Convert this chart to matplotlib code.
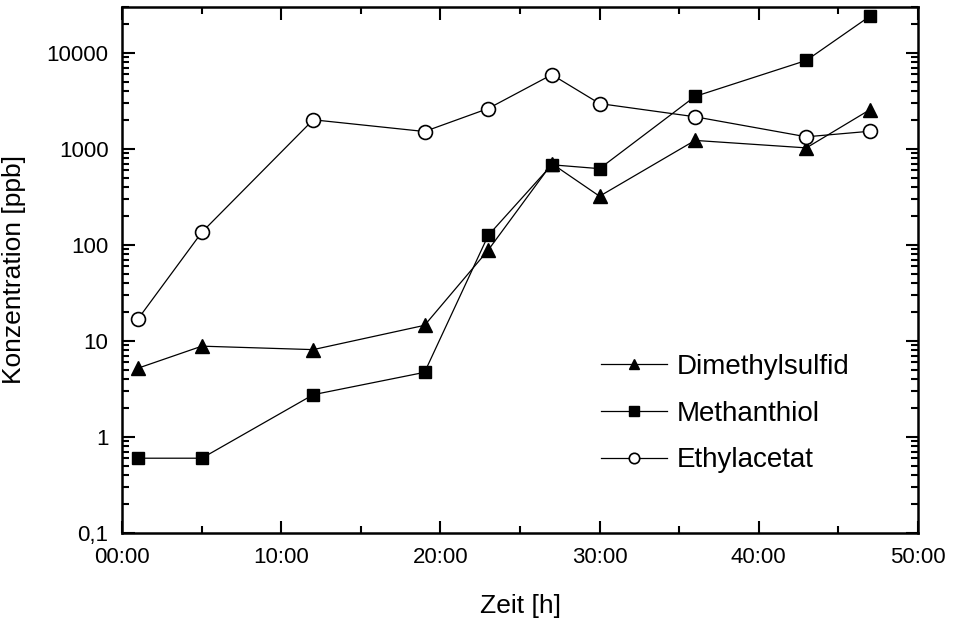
import matplotlib
matplotlib.use('Agg')
import matplotlib.pyplot as plt
from matplotlib.ticker import FixedLocator, LogLocator, NullFormatter

plt.rcParams['font.family'] = ['Liberation Sans', 'DejaVu Sans']

# Measurement times [h]
zeit = [1, 5, 12, 19, 23, 27, 30, 36, 43, 47]

# Concentrations [ppb]
dimethylsulfid = [5.2, 8.8, 8.1, 14.5, 88, 700, 320, 1220, 1020, 2550]
methanthiol = [0.6, 0.6, 2.75, 4.7, 125, 680, 620, 3500, 8300, 24000]
ethylacetat = [17, 135, 2000, 1510, 2620, 5900, 2950, 2150, 1330, 1520]

x_ticks = [0, 10, 20, 30, 40, 50]
x_labels = ['00:00', '10:00', '20:00', '30:00', '40:00', '50:00']
y_ticks = [0.1, 1, 10, 100, 1000, 10000]
y_labels = ['0,1', '1', '10', '100', '1000', '10000']

fig = plt.figure(figsize=(9.63, 6.19), dpi=100)
ax = fig.add_axes([0.127, 0.139, 0.826, 0.85])

ax.plot(zeit, dimethylsulfid, color='black', lw=0.9, marker='^', ms=10,
        label='Dimethylsulfid')
ax.plot(zeit, methanthiol, color='black', lw=0.9, marker='s', ms=9,
        label='Methanthiol')
ax.plot(zeit, ethylacetat, color='black', lw=0.9, marker='o', ms=10,
        mfc='white', mew=1.2, label='Ethylacetat')

ax.set_yscale('log')
ax.set_xlim(0, 50)
ax.set_ylim(0.1, 30000)

ax.xaxis.set_major_locator(FixedLocator(x_ticks))
ax.set_xticklabels(x_labels)
ax.xaxis.set_minor_locator(FixedLocator([5, 15, 25, 35, 45]))
ax.yaxis.set_major_locator(FixedLocator(y_ticks))
ax.set_yticklabels(y_labels)
ax.yaxis.set_minor_locator(LogLocator(base=10, subs=range(2, 10), numticks=20))
ax.yaxis.set_minor_formatter(NullFormatter())

ax.tick_params(which='both', direction='in', top=True, right=True, width=1.5)
ax.tick_params(which='major', length=9, labelsize=16, pad=10)
ax.tick_params(which='minor', length=5)
for s in ax.spines.values():
    s.set_linewidth(1.8)

ax.set_xlabel('Zeit [h]', fontsize=19, labelpad=19)
ax.set_ylabel('Konzentration [ppb]', fontsize=19, labelpad=15)

leg = ax.legend(loc='upper left', bbox_to_anchor=(0.570, 0.388), frameon=False,
                fontsize=20, handlelength=2.4, handletextpad=0.35,
                labelspacing=0.75, markerscale=0.75)

fig.savefig('out.png', dpi=100)
